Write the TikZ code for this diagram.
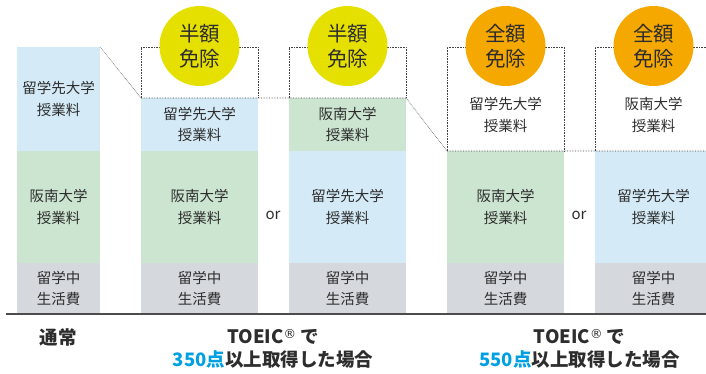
\documentclass[tikz,border=0pt]{standalone}
\usepackage{fontspec}
\setmainfont{Noto Sans CJK JP}
\newfontfamily\regfont{DejaVu Sans}
\newcommand{\regmark}{\raisebox{5pt}{\regfont\mdseries\fontsize{12.5}{12.5}\selectfont ®}}
\usepackage{xcolor}
\definecolor{tuitionblue}{RGB}{212,234,247}
\definecolor{tuitiongreen}{RGB}{204,229,208}
\definecolor{livinggray}{RGB}{213,217,222}
\definecolor{halfyellow}{RGB}{230,224,0}
\definecolor{fullorange}{RGB}{245,168,0}
\definecolor{scoreblue}{RGB}{0,160,226}
\definecolor{inkgray}{RGB}{45,45,45}
\usepackage{tikz}
\usetikzlibrary{positioning}

\begin{document}
\begin{tikzpicture}[x=1pt, y=-1pt,
  blk/.style={anchor=north west, inner sep=0pt, outer sep=0pt, align=center,
    text=inkgray, font=\fontsize{14.5}{21.5}\selectfont, minimum width=117pt},
  blklabel/.style={inner sep=0pt, align=center, text=inkgray,
    font=\fontsize{14.5}{21.5}\selectfont},
  level/.style={densely dotted, line width=0.6pt, inkgray!90},
  badge/.style={circle, minimum size=80pt, inner sep=0pt, align=center,
    text=inkgray, font=\fontsize{20.5}{24.5}\selectfont},
  caption/.style={align=center, text=inkgray, font=\bfseries\fontsize{18.5}{23}\selectfont}]

  \useasboundingbox (0,0) rectangle (706,373);

  % usual case
  \node[blk, fill=tuitionblue, minimum width=83pt, minimum height=104pt] (c0abroad) at (17,47) {留学先大学\\授業料};
  \node[blk, fill=tuitiongreen, minimum width=83pt, minimum height=112pt] (c0hannan) at (17,151) {阪南大学\\授業料};
  \node[blk, fill=livinggray, minimum width=83pt, minimum height=51pt] (c0living) at (17,263) {留学中\\生活費};

  % 350: abroad tuition halved
  \node[blk, minimum height=51pt] (c1free) at (141,47) {};
  \node[blk, fill=tuitionblue, minimum height=53pt] (c1abroad) at (141,98) {留学先大学\\授業料};
  \node[blk, fill=tuitiongreen, minimum height=112pt] (c1hannan) at (141,151) {阪南大学\\授業料};
  \node[blk, fill=livinggray, minimum height=51pt] (c1living) at (141,263) {留学中\\生活費};

  % 350: hannan tuition halved
  \node[blk, minimum height=51pt] (c2free) at (289,47) {};
  \node[blk, fill=tuitiongreen, minimum height=53pt] (c2hannan) at (289,98) {阪南大学\\授業料};
  \node[blk, fill=tuitionblue, minimum height=112pt] (c2abroad) at (289,151) {留学先大学\\授業料};
  \node[blk, fill=livinggray, minimum height=51pt] (c2living) at (289,263) {留学中\\生活費};
  \node[blklabel, font=\fontsize{15}{15}\selectfont] (or1) at (273,215) {or};

  % 550: abroad tuition waived
  \node[blk, minimum height=104pt] (c3free) at (447,47) {};
  \node[blklabel] (c3label) at (505.5,115) {留学先大学\\授業料};
  \node[blk, fill=tuitiongreen, minimum height=112pt] (c3hannan) at (447,151) {阪南大学\\授業料};
  \node[blk, fill=livinggray, minimum height=51pt] (c3living) at (447,263) {留学中\\生活費};

  % 550: hannan tuition waived
  \node[blk, minimum height=104pt] (c4free) at (595,47) {};
  \node[blklabel] (c4label) at (653.5,115) {阪南大学\\授業料};
  \node[blk, fill=tuitionblue, minimum height=112pt] (c4abroad) at (595,151) {留学先大学\\授業料};
  \node[blk, fill=livinggray, minimum height=51pt] (c4living) at (595,263) {留学中\\生活費};
  \node[blklabel, font=\fontsize{15}{15}\selectfont] (or2) at (579,215) {or};

  % dotted outlines of what is waived
  \draw[level] (c1free.south west) -- (c1free.north west) -- (c1free.north east) -- (c1free.south east);
  \draw[level] (c2free.south west) -- (c2free.north west) -- (c2free.north east) -- (c2free.south east);
  \draw[level] (c3free.south west) -- (c3free.north west) -- (c3free.north east) -- (c3free.south east);
  \draw[level] (c4free.south west) -- (c4free.north west) -- (c4free.north east) -- (c4free.south east);
  \draw[level] (c0abroad.north east) -- (c1free.south west) -- (c2free.south east);
  \draw[level] (c2free.south east) -- (c3free.south west) -- (c4free.south east);

  % badges
  \node[badge, fill=halfyellow] (half1) at (199.5,46) {半額\\免除};
  \node[badge, fill=halfyellow] (half2) at (347.5,46) {半額\\免除};
  \node[badge, fill=fullorange] (full1) at (505.5,46) {全額\\免除};
  \node[badge, fill=fullorange] (full2) at (653.5,46) {全額\\免除};

  % base line
  \coordinate (baseL) at (6,314);
  \coordinate (baseR) at (706,314);
  \draw[line width=1.2pt, inkgray!85] (baseL) -- (baseR);

  % captions
  \node[caption] (usual) at (58,337) {通常};
  \node[caption] (toeic350) at (273,348.5)
    {TOEIC\regmark{} で\\\textcolor{scoreblue}{350点}以上取得した場合};
  \node[caption] (toeic550) at (579.5,348.5)
    {TOEIC\regmark{} で\\\textcolor{scoreblue}{550点}以上取得した場合};

\end{tikzpicture}
\end{document}
